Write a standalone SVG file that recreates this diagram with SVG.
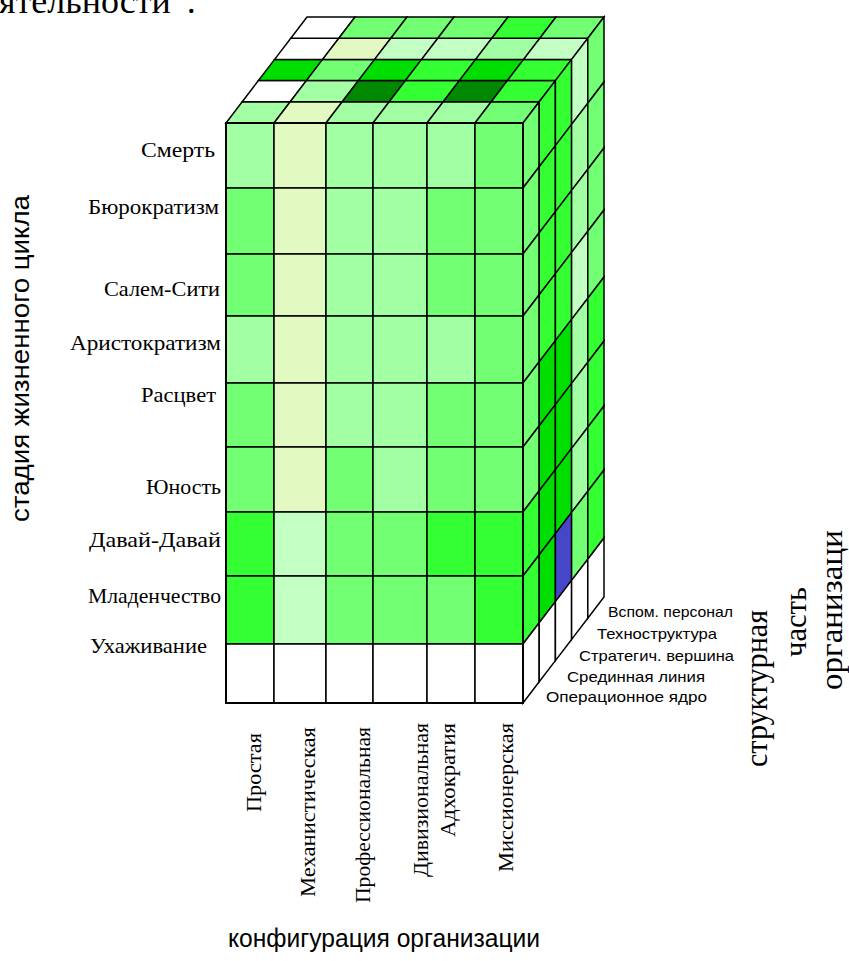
<svg xmlns="http://www.w3.org/2000/svg" width="849" height="961" viewBox="0 0 849 961">
<style>
rect{stroke:#000;stroke-width:1.5;vector-effect:non-scaling-stroke;stroke-linejoin:miter}
.a{fill:#A3FFA3}.b{fill:#73FF73}.c{fill:#33FF33}.d{fill:#00DD00}.e{fill:#008800}.y{fill:#E2F9C1}.p{fill:#C3FFC3}.w{fill:#FFFFFF}.u{fill:#4646C8}
.ser{font-family:"Liberation Serif","Times New Roman",serif;fill:#000}
.san{font-family:"Liberation Sans",Arial,sans-serif;fill:#000}
.lab{font-size:21px}
.col{font-size:22px}
.lay{font-size:15px}
.big{font-size:31px}
</style>
<rect x="0" y="0" width="849" height="961" style="fill:#fff;stroke:none"/>
<text class="ser" x="-1" y="13" font-size="36">ятельности”.</text>

<g id="top-face" transform="matrix(1,0,16.2,-21.2,0,123)">
  <rect class="a" x="226" y="0" width="48" height="1"/><rect class="y" x="274" y="0" width="52" height="1"/><rect class="a" x="326" y="0" width="47" height="1"/><rect class="a" x="373" y="0" width="54" height="1"/><rect class="a" x="427" y="0" width="48" height="1"/><rect class="b" x="475" y="0" width="48" height="1"/>
  <rect class="w" x="226" y="1" width="48" height="1"/><rect class="a" x="274" y="1" width="52" height="1"/><rect class="e" x="326" y="1" width="47" height="1"/><rect class="c" x="373" y="1" width="54" height="1"/><rect class="e" x="427" y="1" width="48" height="1"/><rect class="c" x="475" y="1" width="48" height="1"/>
  <rect class="d" x="226" y="2" width="48" height="1"/><rect class="b" x="274" y="2" width="52" height="1"/><rect class="d" x="326" y="2" width="47" height="1"/><rect class="c" x="373" y="2" width="54" height="1"/><rect class="d" x="427" y="2" width="48" height="1"/><rect class="c" x="475" y="2" width="48" height="1"/>
  <rect class="w" x="226" y="3" width="48" height="1"/><rect class="y" x="274" y="3" width="52" height="1"/><rect class="p" x="326" y="3" width="47" height="1"/><rect class="p" x="373" y="3" width="54" height="1"/><rect class="a" x="427" y="3" width="48" height="1"/><rect class="p" x="475" y="3" width="48" height="1"/>
  <rect class="w" x="226" y="4" width="48" height="1"/><rect class="b" x="274" y="4" width="52" height="1"/><rect class="b" x="326" y="4" width="47" height="1"/><rect class="b" x="373" y="4" width="54" height="1"/><rect class="c" x="427" y="4" width="48" height="1"/><rect class="b" x="475" y="4" width="48" height="1"/>
</g>

<g id="right-face" transform="matrix(16.2,-21.2,0,1,523,0)">
  <g id="layer-operational">
    <rect class="b" x="0" y="123" width="1" height="65"/><rect class="b" x="0" y="188" width="1" height="66"/><rect class="b" x="0" y="254" width="1" height="62"/><rect class="b" x="0" y="316" width="1" height="67"/><rect class="b" x="0" y="383" width="1" height="64"/><rect class="b" x="0" y="447" width="1" height="65"/><rect class="c" x="0" y="512" width="1" height="64"/><rect class="c" x="0" y="576" width="1" height="68"/><rect class="w" x="0" y="644" width="1" height="59"/>
  </g>
  <g id="layer-middle">
    <rect class="c" x="1" y="123" width="1" height="65"/><rect class="c" x="1" y="188" width="1" height="66"/><rect class="c" x="1" y="254" width="1" height="62"/><rect class="c" x="1" y="316" width="1" height="67"/><rect class="d" x="1" y="383" width="1" height="64"/><rect class="d" x="1" y="447" width="1" height="65"/><rect class="d" x="1" y="512" width="1" height="64"/><rect class="d" x="1" y="576" width="1" height="68"/><rect class="w" x="1" y="644" width="1" height="59"/>
  </g>
  <g id="layer-apex">
    <rect class="c" x="2" y="123" width="1" height="65"/><rect class="c" x="2" y="188" width="1" height="66"/><rect class="c" x="2" y="254" width="1" height="62"/><rect class="c" x="2" y="316" width="1" height="67"/><rect class="d" x="2" y="383" width="1" height="64"/><rect class="d" x="2" y="447" width="1" height="65"/><rect class="d" x="2" y="512" width="1" height="64"/><rect class="u" x="2" y="576" width="1" height="68"/><rect class="w" x="2" y="644" width="1" height="59"/>
  </g>
  <g id="layer-techno">
    <rect class="p" x="3" y="123" width="1" height="65"/><rect class="a" x="3" y="188" width="1" height="66"/><rect class="a" x="3" y="254" width="1" height="62"/><rect class="p" x="3" y="316" width="1" height="67"/><rect class="a" x="3" y="383" width="1" height="64"/><rect class="a" x="3" y="447" width="1" height="65"/><rect class="a" x="3" y="512" width="1" height="64"/><rect class="b" x="3" y="576" width="1" height="68"/><rect class="w" x="3" y="644" width="1" height="59"/>
  </g>
  <g id="layer-support">
    <rect class="b" x="4" y="123" width="1" height="65"/><rect class="b" x="4" y="188" width="1" height="66"/><rect class="b" x="4" y="254" width="1" height="62"/><rect class="b" x="4" y="316" width="1" height="67"/><rect class="c" x="4" y="383" width="1" height="64"/><rect class="c" x="4" y="447" width="1" height="65"/><rect class="c" x="4" y="512" width="1" height="64"/><rect class="c" x="4" y="576" width="1" height="68"/><rect class="w" x="4" y="644" width="1" height="59"/>
  </g>
</g>

<g id="front-face">
  <rect class="a" x="226" y="123" width="48" height="65"/><rect class="y" x="274" y="123" width="52" height="65"/><rect class="a" x="326" y="123" width="47" height="65"/><rect class="a" x="373" y="123" width="54" height="65"/><rect class="a" x="427" y="123" width="48" height="65"/><rect class="b" x="475" y="123" width="48" height="65"/>
  <rect class="b" x="226" y="188" width="48" height="66"/><rect class="y" x="274" y="188" width="52" height="66"/><rect class="a" x="326" y="188" width="47" height="66"/><rect class="a" x="373" y="188" width="54" height="66"/><rect class="b" x="427" y="188" width="48" height="66"/><rect class="b" x="475" y="188" width="48" height="66"/>
  <rect class="b" x="226" y="254" width="48" height="62"/><rect class="y" x="274" y="254" width="52" height="62"/><rect class="a" x="326" y="254" width="47" height="62"/><rect class="a" x="373" y="254" width="54" height="62"/><rect class="b" x="427" y="254" width="48" height="62"/><rect class="b" x="475" y="254" width="48" height="62"/>
  <rect class="a" x="226" y="316" width="48" height="67"/><rect class="y" x="274" y="316" width="52" height="67"/><rect class="a" x="326" y="316" width="47" height="67"/><rect class="a" x="373" y="316" width="54" height="67"/><rect class="a" x="427" y="316" width="48" height="67"/><rect class="b" x="475" y="316" width="48" height="67"/>
  <rect class="b" x="226" y="383" width="48" height="64"/><rect class="y" x="274" y="383" width="52" height="64"/><rect class="a" x="326" y="383" width="47" height="64"/><rect class="a" x="373" y="383" width="54" height="64"/><rect class="b" x="427" y="383" width="48" height="64"/><rect class="b" x="475" y="383" width="48" height="64"/>
  <rect class="b" x="226" y="447" width="48" height="65"/><rect class="y" x="274" y="447" width="52" height="65"/><rect class="b" x="326" y="447" width="47" height="65"/><rect class="a" x="373" y="447" width="54" height="65"/><rect class="b" x="427" y="447" width="48" height="65"/><rect class="b" x="475" y="447" width="48" height="65"/>
  <rect class="c" x="226" y="512" width="48" height="64"/><rect class="p" x="274" y="512" width="52" height="64"/><rect class="b" x="326" y="512" width="47" height="64"/><rect class="b" x="373" y="512" width="54" height="64"/><rect class="c" x="427" y="512" width="48" height="64"/><rect class="c" x="475" y="512" width="48" height="64"/>
  <rect class="c" x="226" y="576" width="48" height="68"/><rect class="p" x="274" y="576" width="52" height="68"/><rect class="b" x="326" y="576" width="47" height="68"/><rect class="b" x="373" y="576" width="54" height="68"/><rect class="b" x="427" y="576" width="48" height="68"/><rect class="c" x="475" y="576" width="48" height="68"/>
  <rect class="w" x="226" y="644" width="48" height="59"/><rect class="w" x="274" y="644" width="52" height="59"/><rect class="w" x="326" y="644" width="47" height="59"/><rect class="w" x="373" y="644" width="54" height="59"/><rect class="w" x="427" y="644" width="48" height="59"/><rect class="w" x="475" y="644" width="48" height="59"/>
  <rect x="226" y="123" width="297" height="580" style="fill:none;stroke-width:2"/>
</g>

<g id="stage-labels" class="ser lab">
  <text x="141" y="157" textLength="74" lengthAdjust="spacingAndGlyphs">Смерть</text>
  <text x="88" y="214" textLength="131" lengthAdjust="spacingAndGlyphs">Бюрократизм</text>
  <text x="104" y="296" textLength="116" lengthAdjust="spacingAndGlyphs">Салем-Сити</text>
  <text x="70" y="350" textLength="151" lengthAdjust="spacingAndGlyphs">Аристократизм</text>
  <text x="141" y="402" textLength="75" lengthAdjust="spacingAndGlyphs">Расцвет</text>
  <text x="146" y="494" textLength="75" lengthAdjust="spacingAndGlyphs">Юность</text>
  <text x="89" y="547" textLength="132" lengthAdjust="spacingAndGlyphs">Давай-Давай</text>
  <text x="88" y="603" textLength="133" lengthAdjust="spacingAndGlyphs">Младенчество</text>
  <text x="90" y="653" textLength="117" lengthAdjust="spacingAndGlyphs">Ухаживание</text>
</g>

<g id="config-labels" class="ser col">
  <text transform="translate(261,812) rotate(-90)" textLength="79" lengthAdjust="spacingAndGlyphs">Простая</text>
  <text transform="translate(315,897) rotate(-90)" textLength="170" lengthAdjust="spacingAndGlyphs">Механистическая</text>
  <text transform="translate(370,903) rotate(-90)" textLength="176" lengthAdjust="spacingAndGlyphs">Профессиональная</text>
  <text transform="translate(428,877) rotate(-90)" textLength="154" lengthAdjust="spacingAndGlyphs">Дивизиональная</text>
  <text transform="translate(455,837) rotate(-90)" textLength="114" lengthAdjust="spacingAndGlyphs">Адхократия</text>
  <text transform="translate(513,872) rotate(-90)" textLength="149" lengthAdjust="spacingAndGlyphs">Миссионерская</text>
</g>

<g id="part-labels" class="san lay">
  <text x="608" y="617" textLength="125" lengthAdjust="spacingAndGlyphs">Вспом. персонал</text>
  <text x="597" y="639" textLength="120" lengthAdjust="spacingAndGlyphs">Техноструктура</text>
  <text x="579" y="661" textLength="155" lengthAdjust="spacingAndGlyphs">Стратегич. вершина</text>
  <text x="567" y="682" textLength="138" lengthAdjust="spacingAndGlyphs">Срединная линия</text>
  <text x="546" y="702" textLength="161" lengthAdjust="spacingAndGlyphs">Операционное ядро</text>
</g>

<g id="axis-titles">
  <text class="san" font-size="26" transform="translate(29,522) rotate(-90)" textLength="327" lengthAdjust="spacingAndGlyphs">стадия жизненного цикла</text>
  <text class="san" font-size="25" x="228" y="947" textLength="312" lengthAdjust="spacingAndGlyphs">конфигурация организации</text>
  <text class="ser big" transform="translate(767,767) rotate(-90)" textLength="157" lengthAdjust="spacingAndGlyphs">структурная</text>
  <text class="ser big" transform="translate(806,657) rotate(-90)" textLength="70" lengthAdjust="spacingAndGlyphs">часть</text>
  <text class="ser big" transform="translate(842,690) rotate(-90)" textLength="160" lengthAdjust="spacingAndGlyphs">организаци</text>
</g>
</svg>
